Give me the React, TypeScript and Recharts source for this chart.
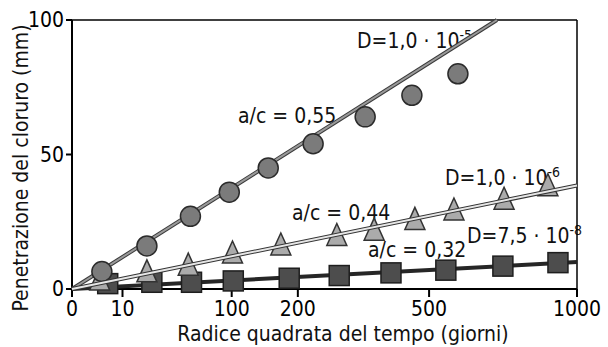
import { ScatterChart, Scatter, XAxis, YAxis, ReferenceLine } from 'recharts'

// x = days (plotted on a square-root axis), y = penetration in mm
const X_TICKS = [0, 10, 100, 200, 500, 1000]
const Y_TICKS = [0, 50, 100]

const circleDays = [3.5, 22, 55, 97, 151, 228, 337, 453, 584]
const circleMm = [6.5, 16, 27, 36, 45, 54, 64, 72, 80]

const triangleDays = [3, 22, 53, 101, 171, 275, 358, 461, 572, 732, 888]
const triangleMm = [3, 6, 8.5, 13, 16, 19.5, 21.5, 25.5, 29, 33, 38]

const squareDays = [5, 25, 56, 102, 185, 280, 399, 548, 728, 926]
const squareMm = [2, 2.5, 2.5, 3, 4, 5, 6, 7, 8.5, 9.8]

// fitted lines, endpoints only
const fit55Days = [0, 708]
const fit55Mm = [0, 100]
const fit44Days = [0, 1000]
const fit44Mm = [0, 38.5]
const fit32Days = [0, 1000]
const fit32Mm = [0, 10]

const FONT = "'Liberation Sans Narrow', 'DejaVu Sans Condensed', 'Liberation Sans', Arial, sans-serif"

const zip = (xs: number[], ys: number[]) => xs.map((t, i) => ({ t, v: ys[i] }))

const CircleMark = (p: any) => (
  <circle cx={p.cx} cy={p.cy} r={10} fill="#7b7b7b" stroke="#2b2b2b" strokeWidth={1.5} />
)

const TriangleMark = (p: any) => (
  <polygon
    points={`${p.cx},${p.cy - 13} ${p.cx - 10},${p.cy + 9} ${p.cx + 10},${p.cy + 9}`}
    fill="#ababab"
    stroke="#333"
    strokeWidth={1.5}
  />
)

const SquareMark = (p: any) => (
  <rect x={p.cx - 10} y={p.cy - 10} width={20} height={20} fill="#4d4d4d" stroke="#1e1e1e" strokeWidth={1.5} />
)

const NoMark = () => <g />

function Note({ x, y, text, sup }: { x: number; y: number; text: string; sup?: string }) {
  return (
    <text x={x} y={y} fontFamily={FONT} fontSize={21} fill="#111">
      {text}
      {sup && (
        <tspan dy={-8} fontSize={14}>
          {sup}
        </tspan>
      )}
    </text>
  )
}

export default function App() {
  return (
    <div style={{ position: 'absolute', left: 0, top: 0, width: 608, height: 347, background: '#fff' }}>
      <ScatterChart width={608} height={347} margin={{ top: 20, right: 31, bottom: 0, left: 0 }}>
        <XAxis
          type="number"
          dataKey="t"
          scale="sqrt"
          domain={[0, 1000]}
          ticks={X_TICKS}
          interval={0}
          height={58}
          tickSize={8}
          tickMargin={4}
          axisLine={{ stroke: '#000', strokeWidth: 2 }}
          tickLine={{ stroke: '#000', strokeWidth: 2 }}
          tick={{ fill: '#000', fontSize: 21, fontFamily: FONT }}
        />
        <YAxis
          type="number"
          dataKey="v"
          domain={[0, 100]}
          ticks={Y_TICKS}
          interval={0}
          width={72}
          tickSize={6}
          tickMargin={2}
          axisLine={{ stroke: '#000', strokeWidth: 2 }}
          tickLine={{ stroke: '#000', strokeWidth: 2 }}
          tick={{ fill: '#000', fontSize: 21, fontFamily: FONT }}
        />
        <ReferenceLine y={100} stroke="#000" strokeWidth={1.5} />
        <ReferenceLine x={1000} stroke="#000" strokeWidth={1.5} />

        <Scatter data={zip(fit55Days, fit55Mm)} shape={NoMark} line={{ stroke: '#3a3a3a', strokeWidth: 4 }} isAnimationActive={false} />
        <Scatter data={zip(fit55Days, fit55Mm)} shape={NoMark} line={{ stroke: '#9a9a9a', strokeWidth: 2 }} isAnimationActive={false} />
        <Scatter data={zip(fit32Days, fit32Mm)} shape={NoMark} line={{ stroke: '#262626', strokeWidth: 4 }} isAnimationActive={false} />

        <Scatter data={zip(squareDays, squareMm)} shape={SquareMark} isAnimationActive={false} />
        <Scatter data={zip(triangleDays, triangleMm)} shape={TriangleMark} isAnimationActive={false} />
        <Scatter data={zip(circleDays, circleMm)} shape={CircleMark} isAnimationActive={false} />

        <Scatter data={zip(fit44Days, fit44Mm)} shape={NoMark} line={{ stroke: '#333', strokeWidth: 4 }} isAnimationActive={false} />
        <Scatter data={zip(fit44Days, fit44Mm)} shape={NoMark} line={{ stroke: '#e6e6e6', strokeWidth: 2 }} isAnimationActive={false} />

        <Note x={357} y={48} text="D=1,0 · 10" sup="-5" />
        <Note x={238} y={123} text="a/c = 0,55" />
        <Note x={445} y={185} text="D=1,0 · 10" sup="-6" />
        <Note x={292} y={220} text="a/c = 0,44" />
        <Note x={467} y={243} text="D=7,5 · 10" sup="-8" />
        <Note x={368} y={257} text="a/c = 0,32" />

        <text x={343} y={341} textAnchor="middle" fontFamily={FONT} fontSize={21} fill="#111">
          Radice quadrata del tempo (giorni)
        </text>
        <text
          x={21}
          y={168}
          textAnchor="middle"
          dominantBaseline="central"
          transform="rotate(-90 21 168)"
          fontFamily={FONT}
          fontSize={21}
          fill="#111"
        >
          Penetrazione del cloruro (mm)
        </text>
      </ScatterChart>
    </div>
  )
}
